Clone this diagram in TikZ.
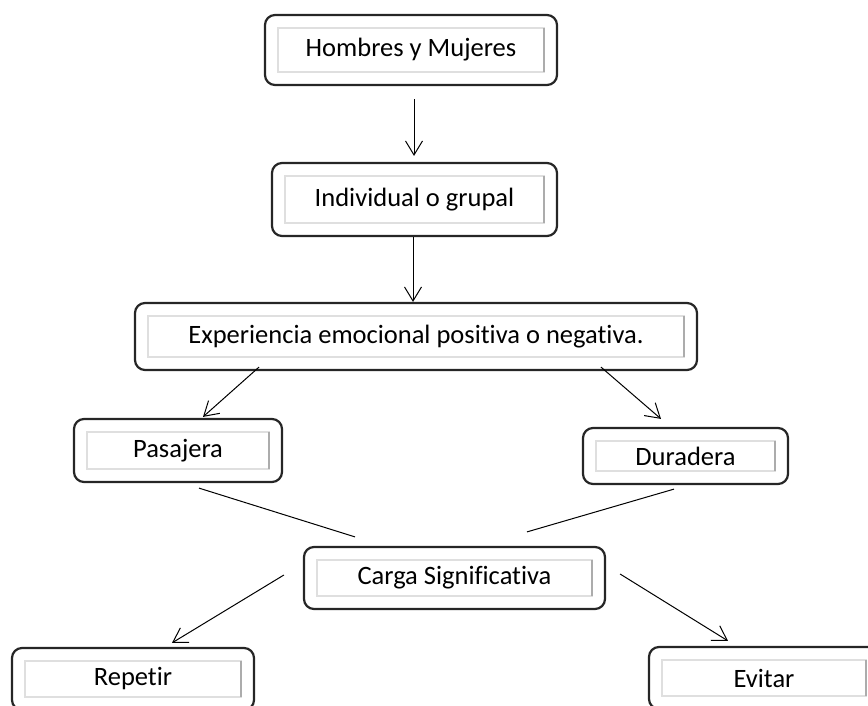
\documentclass[tikz,border=0pt]{standalone}
\usepackage{fontspec}
\setmainfont{Carlito}[Ligatures=NoCommon]
\usetikzlibrary{arrows.meta}
\begin{document}
\begin{tikzpicture}[x=1pt,y=-1pt]
\tikzstyle{bx} = [draw=black!85,line width=2.2pt,rounded corners=10pt,inner sep=0pt,
  font=\fontsize{26.5}{31}\selectfont,
  path picture={
    \draw[sharp corners,gray!25,line width=1.2pt]
      ([shift={(13pt,13pt)}]path picture bounding box.south west) rectangle
      ([shift={(-13pt,-13pt)}]path picture bounding box.north east);
    \draw[sharp corners,gray!65,line width=1.6pt]
      ([shift={(-13pt,13pt)}]path picture bounding box.south east) --
      ([shift={(-13pt,-13pt)}]path picture bounding box.north east);
  }] %box
\tikzstyle{ar} = [-{Straight Barb[length=14pt,width=17pt]},line width=1pt] %arrow
\tikzstyle{ln} = [-,line width=1pt] %line
\useasboundingbox (0,0) rectangle (868,705);
\clip (0,0) rectangle (868,705);
\node[bx,minimum width=292pt,minimum height=70pt](hm)at(411,50){Hombres y Mujeres};
\node[bx,minimum width=285pt,minimum height=73pt](ig)at(414.5,199.5){Individual o grupal};
\node[bx,minimum width=562pt,minimum height=67pt](ex)at(416,336.5){Experiencia emocional positiva o negativa.};
\node[bx,minimum width=208pt,minimum height=63pt](pa)at(178,450.5){Pasajera};
\node[bx,minimum width=205pt,minimum height=56pt](du)at(685.5,456){Duradera};
\node[bx,minimum width=301pt,minimum height=62pt](ca)at(454.5,578){Carga Significativa};
\node[bx,minimum width=242pt,minimum height=62pt](re)at(133,679){Repetir};
\node[bx,minimum width=230pt,minimum height=62pt](ev)at(764,678){Evitar};
\draw[ar]([xshift=3pt,yshift=-13pt]hm.south)--([xshift=-0.5pt,yshift=6pt]ig.north);
\draw[ar]([xshift=-1.5pt]ig.south)--([xshift=-3pt]ex.north);
\draw[ar]([xshift=-157pt,yshift=4pt]ex.south)--([xshift=25pt,yshift=1pt]pa.north);
\draw[ar]([xshift=185pt,yshift=4pt]ex.south)--([xshift=-24.5pt,yshift=8pt]du.north);
\draw[ln]([xshift=21pt,yshift=-5pt]pa.south)--([xshift=-99.5pt,yshift=9pt]ca.north);
\draw[ln]([xshift=-11.5pt,yshift=-4pt]du.south)--([xshift=72.5pt,yshift=14pt]ca.north);
\draw[ar]([xshift=-19pt,yshift=3pt]ca.west)--([xshift=39pt,yshift=4pt]re.north);
\draw[ar]([xshift=14pt,yshift=4pt]ca.east)--([xshift=-36pt,yshift=5pt]ev.north);
\end{tikzpicture}
\end{document}
